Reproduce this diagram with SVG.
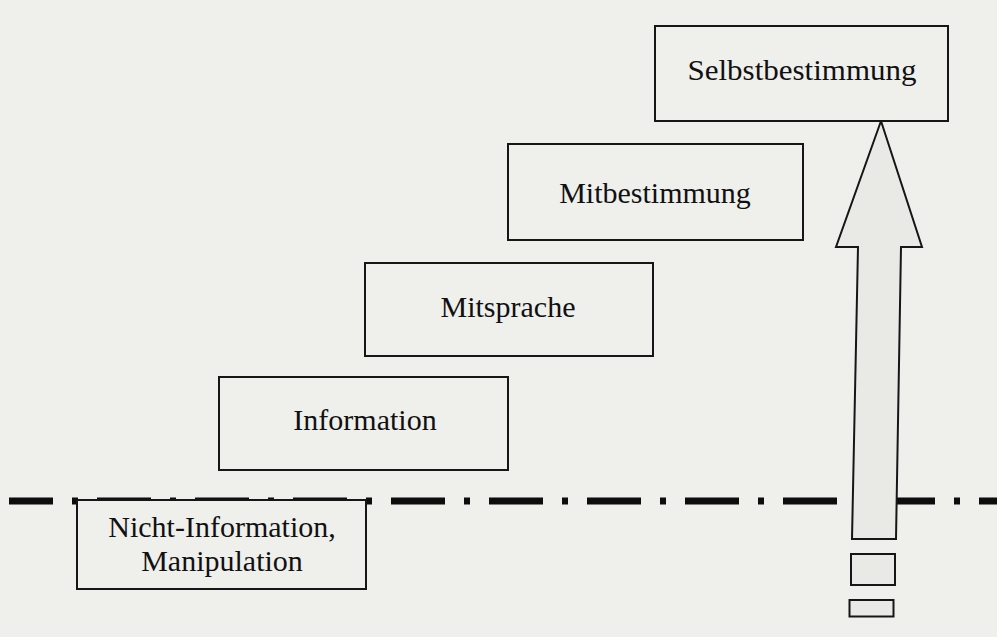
<svg xmlns="http://www.w3.org/2000/svg" width="997" height="637" viewBox="0 0 997 637">
  <style>
    .box { fill: #efefec; stroke: #161616; stroke-width: 2; }
    .lbl { font-family: "Liberation Serif", "Times New Roman", serif; font-size: 30px; fill: #111; text-anchor: middle; }
    .arrow { fill: #e9e9e6; stroke: #161616; stroke-width: 2; stroke-linejoin: miter; }
    .divider { fill: none; stroke: #0d0d0d; stroke-width: 7; stroke-dasharray: 54 19 6 19; }
  </style>
  <rect x="0" y="0" width="997" height="637" fill="#efefec"/>

  <g id="divider">
    <path class="divider" d="M 9 501 H 997" stroke-dashoffset="10"/>
  </g>

  <g id="connectors">
    <path class="arrow" d="M 881 121 L 922 247 L 901 247 L 896 539 L 852 539 L 858 247 L 836 247 Z"/>
    <rect class="arrow" x="851" y="554" width="44" height="31"/>
    <rect class="arrow" x="849.5" y="600" width="44" height="16.5"/>
  </g>

  <g id="node-nicht-information">
    <rect class="box" x="77" y="500" width="289" height="89"/>
    <text class="lbl" x="222" y="537">Nicht-Information,</text>
    <text class="lbl" x="222" y="571">Manipulation</text>
  </g>

  <g id="node-information">
    <rect class="box" x="219" y="377" width="289" height="93"/>
    <text class="lbl" x="365" y="430">Information</text>
  </g>

  <g id="node-mitsprache">
    <rect class="box" x="365" y="263" width="288" height="93"/>
    <text class="lbl" x="508" y="317">Mitsprache</text>
  </g>

  <g id="node-mitbestimmung">
    <rect class="box" x="508" y="144" width="295" height="96"/>
    <text class="lbl" x="655" y="203">Mitbestimmung</text>
  </g>

  <g id="node-selbstbestimmung">
    <rect class="box" x="655" y="26" width="293" height="95"/>
    <text class="lbl" x="802" y="80" textLength="229" lengthAdjust="spacingAndGlyphs">Selbstbestimmung</text>
  </g>
</svg>
